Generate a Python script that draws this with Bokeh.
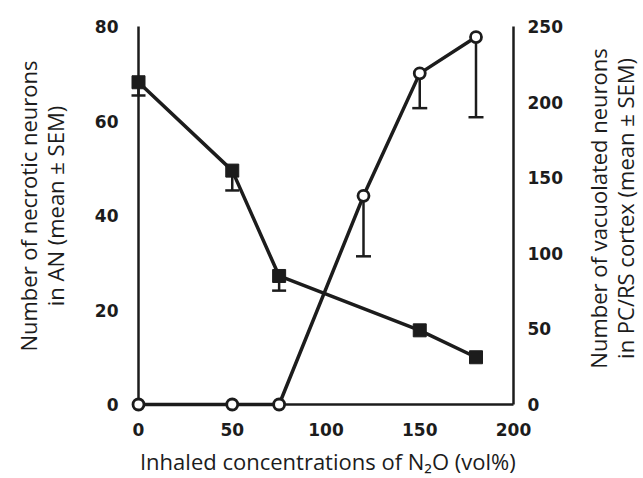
from math import pi
from bokeh.plotting import figure
from bokeh.models import Range1d, LinearAxis, FixedTicker, ColumnDataSource
from bokeh.core.properties import value
from bokeh.embed import file_html
from bokeh.resources import INLINE

# ---- data ----
an_conc = [0, 50, 75, 150, 180]          # filled squares, left axis
an_mean = [68.2, 49.5, 27.2, 15.7, 10.0]
an_sem = [2.8, 4.2, 3.1, 0.0, 0.0]

pc_conc = [0, 50, 75, 120, 150, 180]     # open circles, right axis
pc_mean = [0, 0, 0, 138, 219, 243]
pc_sem = [0, 0, 0, 40, 23, 53]

x_ticks = [0, 50, 100, 150, 200]
left_ticks = [0, 20, 40, 60, 80]
right_ticks = [0, 50, 100, 150, 200, 250]

x_title = "Inhaled concentrations of N\u2082O (vol%)"
left_title = "Number of necrotic neurons\nin AN (mean \u00b1 SEM)"
right_title = "Number of vacuolated neurons\nin PC/RS cortex (mean \u00b1 SEM)"

INK = "#1c1c1c"

p = figure(width=None, height=None, frame_width=375, frame_height=378,
           min_border_left=138, min_border_right=130, min_border_top=26,
           min_border_bottom=74,
           x_range=Range1d(0, 200), y_range=Range1d(0, 80),
           output_backend="svg", toolbar_location=None)
p.extra_y_ranges = {"right": Range1d(0, 250)}
p.outline_line_color = None
p.xgrid.visible = False
p.ygrid.visible = False

right_axis = LinearAxis(y_range_name="right")
p.add_layout(right_axis, "right")

def style(ax, ticks, standoff):
    ax.ticker = FixedTicker(ticks=ticks)
    ax.axis_line_width = 2.5
    ax.axis_line_color = INK
    ax.major_tick_out = 0
    ax.major_tick_in = 0
    ax.minor_tick_out = 0
    ax.minor_tick_in = 0
    ax.major_label_text_font = "DejaVu Sans"
    ax.major_label_text_font_style = "bold"
    ax.major_label_text_font_size = "17px"
    ax.major_label_text_color = INK
    ax.major_label_standoff = standoff

style(p.xaxis[0], x_ticks, 18)
style(p.yaxis[0], left_ticks, 20)
style(right_axis, right_ticks, 14)

# ---- lines ----
p.line(an_conc, an_mean, line_width=3.5, line_color=INK, level="overlay")
p.line(pc_conc, pc_mean, line_width=3.5, line_color=INK, y_range_name="right", level="overlay")

# ---- error bars (lower half only) ----
an_eb = ColumnDataSource(dict(
    x=[c for c, s in zip(an_conc, an_sem) if s > 0],
    y=[m for m, s in zip(an_mean, an_sem) if s > 0],
    lo=[m - s for m, s in zip(an_mean, an_sem) if s > 0]))
pc_eb = ColumnDataSource(dict(
    x=[c for c, s in zip(pc_conc, pc_sem) if s > 0],
    y=[m for m, s in zip(pc_mean, pc_sem) if s > 0],
    lo=[m - s for m, s in zip(pc_mean, pc_sem) if s > 0]))
p.segment(x0="x", y0="y", x1="x", y1="lo", source=an_eb, line_width=2.5, line_color=INK,
          level="overlay")
p.scatter(x="x", y="lo", source=an_eb, marker="dash", size=14, line_width=2.5, line_color=INK,
          level="overlay")
p.segment(x0="x", y0="y", x1="x", y1="lo", source=pc_eb, line_width=2.5, line_color=INK,
          y_range_name="right", level="overlay")
p.scatter(x="x", y="lo", source=pc_eb, marker="dash", size=15, line_width=2.5, line_color=INK,
          y_range_name="right", level="overlay")

# ---- markers ----
p.scatter(an_conc, an_mean, marker="square", size=13, fill_color=INK, line_color=INK,
          level="overlay")
p.scatter(pc_conc, pc_mean, marker="circle", size=11, fill_color="white", line_color=INK,
          line_width=2.8, y_range_name="right", level="overlay")

# ---- axis titles (drawn as text outside the frame) ----
title_kw = dict(text_font=value("Open Sans"), text_font_size="22px", text_color=INK,
                text_align="center", text_baseline="middle", text_line_height=0.9,
                level="overlay")
p.text(x=[-51.5], y=[42], text=[left_title], angle=pi / 2, **title_kw)
p.text(x=[252.5], y=[41.5], text=[right_title], angle=pi / 2, **title_kw)
p.text(x=[101], y=[-12], text=[x_title], **title_kw)

open("out.html", "w").write(file_html(p, INLINE))
